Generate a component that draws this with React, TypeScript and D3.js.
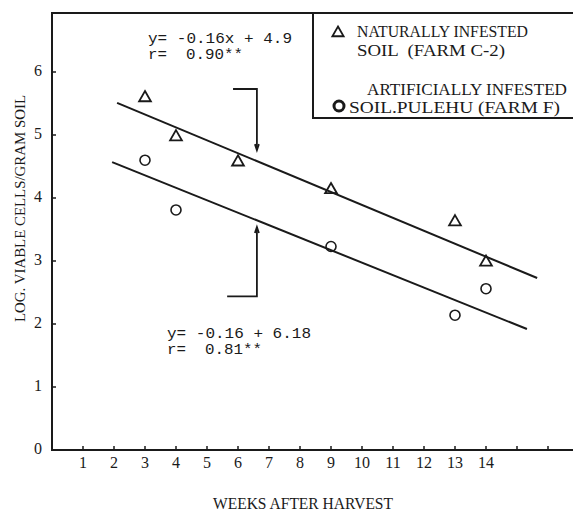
import React, { useEffect, useRef } from "react";
import * as d3 from "d3";

// weeks after harvest / log viable cells per gram soil
const weeksNatural = [3, 4, 6, 9, 13, 14];
const logNatural = [5.59, 4.97, 4.57, 4.13, 3.62, 2.98];
const weeksArtificial = [3, 4, 9, 13, 14];
const logArtificial = [4.6, 3.81, 3.23, 2.14, 2.56];

// fitted lines as drawn (start / end)
const fitNatural = [[2.1, 5.51], [15.65, 2.73]];
const fitArtificial = [[1.94, 4.57], [15.32, 1.92]];

const xTicks = d3.range(1, 17);
const xTickLabels = ["1", "2", "3", "4", "5", "6", "7", "8", "9", "10", "11", "12", "13", "14"];
const yTicks = [0, 1, 2, 3, 4, 5, 6];

const eqNatural = ["y= -0.16x + 4.9", "r=  0.90**"];
const eqArtificial = ["y= -0.16 + 6.18", "r=  0.81**"];
const legendNatural = ["NATURALLY INFESTED", "SOIL  (FARM C-2)"];
const legendArtificial = ["ARTIFICIALLY INFESTED", "SOIL.PULEHU (FARM F)"];

export default function App() {
    const ref = useRef<SVGSVGElement>(null);

    useEffect(() => {
        const svg = d3.select(ref.current);
        svg.selectAll("*").remove();

        const W = 573;
        const left = 52, bottom = 450, top = 13;
        const serif = "'Liberation Serif', serif";
        const mono = "'Liberation Mono', monospace";
        const ink = "#1a1a1a";

        const x = d3.scaleLinear().domain([0, 16]).range([left, left + 16 * 31]);
        const y = d3.scaleLinear().domain([0, 6]).range([bottom, 72]);

        // frame: left axis, bottom axis, top border
        svg.append("path")
            .attr("d", `M${W},${top}H${left}V${bottom}H${W}`)
            .attr("fill", "none")
            .attr("stroke", ink)
            .attr("stroke-width", 2);

        // x ticks (small, pointing up)
        svg.append("g").selectAll("line")
            .data(xTicks)
            .enter().append("line")
            .attr("x1", d => x(d)).attr("x2", d => x(d))
            .attr("y1", bottom).attr("y2", bottom - 4)
            .attr("stroke", ink).attr("stroke-width", 1.5);

        svg.append("g").selectAll("text")
            .data(xTickLabels)
            .enter().append("text")
            .attr("x", (d, i) => x(i + 1))
            .attr("y", 468)
            .attr("text-anchor", "middle")
            .attr("font-family", serif)
            .attr("font-size", 16)
            .attr("fill", ink)
            .text(d => d);

        // y ticks (small, pointing right)
        svg.append("g").selectAll("line")
            .data(yTicks.filter(d => d > 0))
            .enter().append("line")
            .attr("x1", left).attr("x2", left + 4)
            .attr("y1", d => y(d)).attr("y2", d => y(d))
            .attr("stroke", ink).attr("stroke-width", 1.5);

        svg.append("g").selectAll("text")
            .data(yTicks)
            .enter().append("text")
            .attr("x", 42)
            .attr("y", d => y(d) + 4)
            .attr("text-anchor", "end")
            .attr("font-family", serif)
            .attr("font-size", 16)
            .attr("fill", ink)
            .text(d => d);

        // axis titles
        svg.append("text")
            .attr("x", 213).attr("y", 509)
            .attr("font-family", serif)
            .attr("font-size", 16)
            .attr("textLength", 180)
            .attr("lengthAdjust", "spacingAndGlyphs")
            .attr("fill", ink)
            .text("WEEKS AFTER HARVEST");

        svg.append("text")
            .attr("transform", "translate(25,322) rotate(-90)")
            .attr("font-family", serif)
            .attr("font-size", 15)
            .attr("textLength", 227)
            .attr("lengthAdjust", "spacingAndGlyphs")
            .attr("fill", ink)
            .text("LOG. VIABLE CELLS/GRAM SOIL");

        // regression lines
        const line = d3.line<number[]>().x(d => x(d[0])).y(d => y(d[1]));
        [fitNatural, fitArtificial].forEach(f => {
            svg.append("path")
                .attr("d", line(f))
                .attr("fill", "none")
                .attr("stroke", ink)
                .attr("stroke-width", 2);
        });

        // triangles
        const tri = d3.symbol().type(d3.symbolTriangle).size(60);
        svg.append("g").selectAll("path")
            .data(weeksNatural)
            .enter().append("path")
            .attr("d", tri)
            .attr("transform", (d, i) => `translate(${x(d)},${y(logNatural[i])})`)
            .attr("fill", "none")
            .attr("stroke", ink)
            .attr("stroke-width", 1.8);

        // circles
        svg.append("g").selectAll("circle")
            .data(weeksArtificial)
            .enter().append("circle")
            .attr("cx", d => x(d))
            .attr("cy", (d, i) => y(logArtificial[i]))
            .attr("r", 5)
            .attr("fill", "none")
            .attr("stroke", ink)
            .attr("stroke-width", 1.6);

        // brackets with arrows
        const bracket = svg.append("g").attr("fill", "none").attr("stroke", ink).attr("stroke-width", 1.8);
        bracket.append("path")
            .attr("d", `M${x(5.84)},${y(5.73)}H${x(6.61)}V${y(4.76)}`);
        bracket.append("path")
            .attr("d", `M${x(6.61) - 2},${y(4.76) - 6}L${x(6.61)},${y(4.76)}L${x(6.61) + 2},${y(4.76) - 6}`);
        bracket.append("path")
            .attr("d", `M${x(5.65)},${y(2.44)}H${x(6.61)}V${y(3.54)}`);
        bracket.append("path")
            .attr("d", `M${x(6.61) - 2},${y(3.54) + 6}L${x(6.61)},${y(3.54)}L${x(6.61) + 2},${y(3.54) + 6}`);

        // equations
        const eq = (lines: string[], px: number, py: number) => {
            lines.forEach((t, i) => {
                svg.append("text")
                    .attr("x", px)
                    .attr("y", py + i * 16)
                    .attr("font-family", mono)
                    .attr("font-size", 14)
                    .attr("textLength", i === 0 ? 144 : 95)
                    .attr("lengthAdjust", "spacingAndGlyphs")
                    .attr("fill", ink)
                    .style("white-space", "pre")
                    .text(t);
            });
        };
        eq(eqNatural, 148, 43);
        eq(eqArtificial, 167, 338);

        // legend box
        svg.append("path")
            .attr("d", `M313,${top}V118H${W}`)
            .attr("fill", "none")
            .attr("stroke", ink)
            .attr("stroke-width", 2);

        svg.append("path")
            .attr("d", d3.symbol().type(d3.symbolTriangle).size(55)())
            .attr("transform", "translate(338,33)")
            .attr("fill", "none")
            .attr("stroke", ink)
            .attr("stroke-width", 1.8);

        svg.append("circle")
            .attr("cx", 339).attr("cy", 106).attr("r", 5)
            .attr("fill", "none")
            .attr("stroke", ink)
            .attr("stroke-width", 3);

        const legendText = (t: string, px: number, py: number, len: number) => {
            svg.append("text")
                .attr("x", px).attr("y", py)
                .attr("font-family", serif)
                .attr("font-size", 17)
                .attr("textLength", len)
                .attr("lengthAdjust", "spacingAndGlyphs")
                .attr("fill", ink)
                .style("white-space", "pre")
                .text(t);
        };
        legendText(legendNatural[0], 357, 37, 171);
        legendText(legendNatural[1], 357, 56, 148);
        legendText(legendArtificial[0], 367, 95, 200);
        legendText(legendArtificial[1], 349, 113, 211);
    }, []);

    return (
        <div className="canvas">
            <svg ref={ref} width="573" height="514"
                style={{ position: "absolute", left: 0, top: 0, background: "#fff" }} />
        </div>
    );
}
